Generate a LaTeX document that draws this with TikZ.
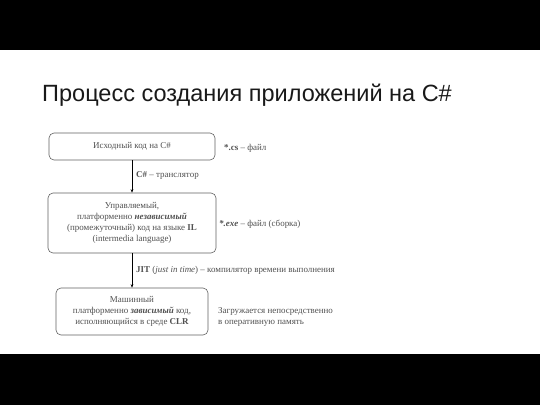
\documentclass[tikz,border=0pt]{standalone}
\usepackage{fontspec}
\setmainfont{Liberation Serif}
\newfontfamily\titlefont{Liberation Sans}
\usetikzlibrary{arrows.meta}
\definecolor{txt}{HTML}{505050}
\definecolor{edge}{HTML}{606060}
\begin{document}
\begin{tikzpicture}[x=1bp,y=-1bp,
  box/.style={draw=edge,line width=0.6bp,rounded corners=5bp,align=center,text=txt,font=\fontsize{9}{11}\selectfont,inner sep=0pt},
  lbl/.style={anchor=west,text=txt,align=left,font=\fontsize{9}{11}\selectfont,inner sep=0pt},
  conn/.style={draw=black,line width=0.5bp,-{Stealth[length=3.5bp,width=2.6bp]}}]
\useasboundingbox (0,0) rectangle (540,405);
\fill[black] (0,0) rectangle (540,50);
\fill[black] (0,354) rectangle (540,405);
\node[anchor=base west,inner sep=0pt,font=\titlefont\fontsize{23.6}{26}\selectfont,text=black!90] (title) at (42,101) {Процесс создания приложений на C\#};
\node[box,minimum width=166bp,minimum height=27bp] (b1) at (132,146.5) {Исходный код на C\#};
\node[box,minimum width=168bp,minimum height=60bp] (b2) at (132,223) {Управляемый,\\платформенно \textbf{\textit{независимый}}\\(промежуточный) код на языке \textbf{IL}\\(intermedia language)};
\node[box,minimum width=152bp,minimum height=47bp] (b3) at (132,311.5) {Машинный\\платформенно \textbf{\textit{зависимый}} код,\\исполняющийся в среде \textbf{CLR}};
\draw[conn] (b1.south) -- (b2.north);
\draw[conn] (b2.south) -- (b3.north);
\node[lbl] (l1) at (224,148) {\textbf{*.cs} – файл};
\node[lbl] (l2) at (136,175) {\textbf{C\#} – транслятор};
\node[lbl] (l3) at (219,224) {\textbf{\textit{*.exe}} – файл (сборка)};
\node[lbl] (l4) at (136,270.5) {\textbf{JIT} (\textit{just in time}) – компилятор времени выполнения};
\node[lbl] (l5) at (218,317) {Загружается непосредственно\\в оперативную память};
\end{tikzpicture}
\end{document}
